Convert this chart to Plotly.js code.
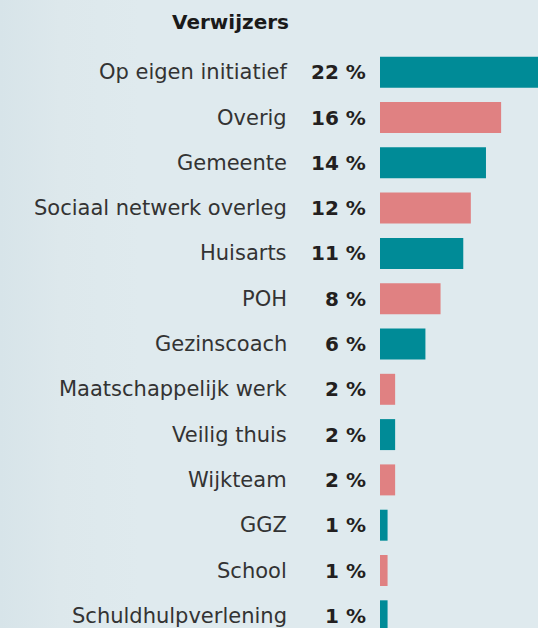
<!DOCTYPE html>
<html>
<head>
<meta charset="utf-8">
<script src="https://cdn.plot.ly/plotly-3.0.1.min.js"></script>
<style>
html,body{margin:0;padding:0;}
body{width:538px;height:628px;overflow:hidden;background:linear-gradient(to right,#d7e4e9 0px,#dde8ec 60px,#dfeaee 140px,#dfeaee 538px);}
#chart{width:538px;height:628px;}
</style>
</head>
<body>
<div id="chart"></div>
<script>
const categories = ["Op eigen initiatief","Overig","Gemeente","Sociaal netwerk overleg","Huisarts","POH","Gezinscoach","Maatschappelijk werk","Veilig thuis","Wijkteam","GGZ","School","Schuldhulpverlening"];
const values = [22,16,14,12,11,8,6,2,2,2,1,1,1];
const labels = ["22 %","16 %","14 %","12 %","11 %","8 %","6 %","2 %","2 %","2 %","1 %","1 %","1 %"];
const colors = ["#008b97","#e08182","#008b97","#e08182","#008b97","#e08182","#008b97","#e08182","#008b97","#e08182","#008b97","#e08182","#008b97"];
const titleText = "Verwijzers";

const pxPerUnit = 7.57;
const plotLeft = 380;
const W = 538, H = 628;
const rowStep = 45.3, firstRow = 72.2;

const trace = {
  type: "bar",
  orientation: "h",
  y: categories,
  x: values,
  marker: {color: colors, line: {width: 0}},
  hoverinfo: "skip"
};

const annotations = [];
categories.forEach((c, i) => {
  annotations.push({
    xref: "x", yref: "y", x: 0, y: c,
    text: c, showarrow: false, xanchor: "right", yanchor: "middle",
    xshift: -(plotLeft - 289), yshift: 0,
    font: {family: "'DejaVu Sans', sans-serif", size: 21, color: "#333333", weight: 400}
  });
  annotations.push({
    xref: "x", yref: "y", x: 0, y: c,
    text: labels[i], showarrow: false, xanchor: "right", yanchor: "middle",
    xshift: -(plotLeft - 368), yshift: 0,
    font: {family: "'DejaVu Sans', sans-serif", size: 20, color: "#231f20", weight: 700}
  });
});

const layout = {
  width: W, height: H,
  margin: {l: plotLeft, r: 0, t: 0, b: 0, pad: 0},
  paper_bgcolor: "rgba(0,0,0,0)",
  plot_bgcolor: "rgba(0,0,0,0)",
  showlegend: false,
  bargap: 0.316,
  title: {
    text: titleText,
    xref: "container", yref: "container",
    x: 289 / W, xanchor: "right",
    y: 1 - 22 / H, yanchor: "middle",
    font: {family: "'DejaVu Sans', sans-serif", size: 20, color: "#1a1a1a", weight: 700}
  },
  xaxis: {
    range: [0, (W - plotLeft) / pxPerUnit],
    visible: false, fixedrange: true
  },
  yaxis: {
    type: "category",
    range: [(categories.length - 1) + (H - (firstRow + rowStep * (categories.length - 1))) / rowStep, -firstRow / rowStep],
    showticklabels: false, showgrid: false, zeroline: false, showline: false, ticks: "",
    fixedrange: true
  },
  annotations: annotations
};

Plotly.newPlot("chart", [trace], layout, {displayModeBar: false, staticPlot: true});
</script>
</body>
</html>
